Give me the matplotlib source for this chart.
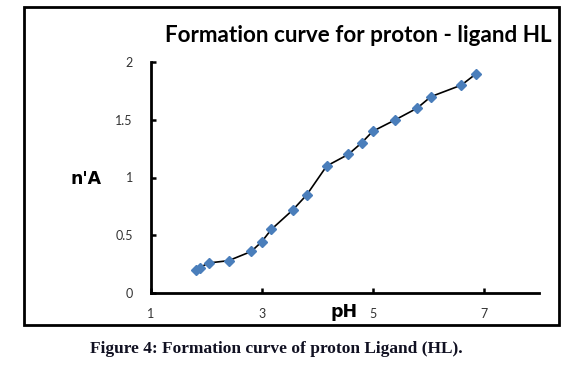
import matplotlib
matplotlib.use("Agg")
import matplotlib.pyplot as plt
from matplotlib.patches import Rectangle

# Data
ph = [1.81, 1.88, 2.04, 2.40, 2.81, 3.00, 3.17, 3.56, 3.81, 4.17,
      4.56, 4.80, 5.00, 5.41, 5.80, 6.05, 6.60, 6.87]
n_a = [0.20, 0.22, 0.26, 0.28, 0.36, 0.445, 0.55, 0.72, 0.85, 1.10,
       1.20, 1.30, 1.40, 1.50, 1.60, 1.70, 1.80, 1.90]
x_ticks = [1, 3, 5, 7]
y_ticks = [0, 0.5, 1, 1.5, 2]
y_tick_labels = ["0", "0.5", "1", "1.5", "2"]
title = "Formation curve for proton - ligand HL"
caption = "Figure 4: Formation curve of proton Ligand (HL)."
xlabel = "pH"
ylabel = "n'A"

W, H = 579, 371
fig = plt.figure(figsize=(W / 100, H / 100), dpi=100)

def fx(px):
    return px / W

def fy(py):
    return 1 - py / H

# outer frame
fig.patches.append(Rectangle((fx(24), fy(325)), fx(559) - fx(24), fy(7) - fy(325),
                             transform=fig.transFigure, fill=False,
                             edgecolor="black", linewidth=2.0))

ax = fig.add_axes([fx(151), fy(293), fx(539) - fx(151), fy(62) - fy(293)])
ax.plot(ph, n_a, color="black", linewidth=1.2, marker="D", markersize=4.8,
        markerfacecolor="#4a7ebb", markeredgecolor="#4a7ebb", zorder=3)
ax.set_xlim(1, 8)
ax.set_ylim(0, 2)
ax.set_xticks(x_ticks)
ax.set_xticklabels([str(v) for v in x_ticks])
ax.set_yticks(y_ticks)
ax.set_yticklabels(y_tick_labels)
for s in ["top", "right"]:
    ax.spines[s].set_visible(False)
for s in ["left", "bottom"]:
    ax.spines[s].set_linewidth(2.0)
ax.tick_params(axis="both", direction="in", length=3.5, width=1.8,
               labelsize=9, labelcolor="#333333")
ax.tick_params(axis="y", pad=13)
ax.tick_params(axis="x", pad=11)
for lab in ax.get_xticklabels() + ax.get_yticklabels():
    lab.set_fontfamily("Lato")

t = fig.text(fx(358), fy(35), title, ha="center", va="center",
             fontsize=15, fontweight="bold", family="Lato")
c = fig.text(fx(276), fy(349), caption, ha="center", va="center",
             fontsize=12, fontweight="bold", family="Liberation Serif",
             color="#111122")
fig.text(fx(86), fy(179), ylabel, ha="center", va="center",
         fontsize=12.5, fontweight="bold", family="DejaVu Sans")
fig.text(fx(344), fy(312), xlabel, ha="center", va="center",
         fontsize=12.5, fontweight="bold", family="DejaVu Sans")

# fit widths of title and caption to the reference
fig.canvas.draw()
r = fig.canvas.get_renderer()
for obj, target in [(t, 390), (c, 372)]:
    w = obj.get_window_extent(r).width
    obj.set_fontsize(obj.get_fontsize() * target / w)

fig.savefig("out.png", dpi=100)
